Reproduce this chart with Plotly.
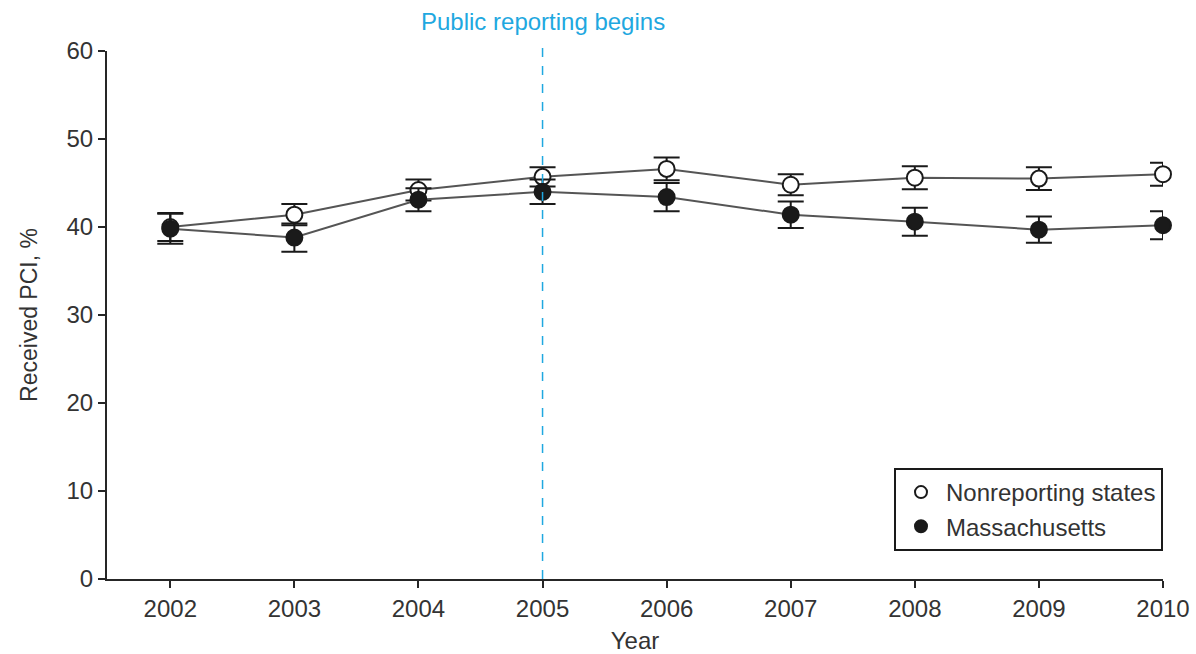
import plotly.graph_objects as go

years = [2002, 2003, 2004, 2005, 2006, 2007, 2008, 2009, 2010]

nonreporting = [40.0, 41.4, 44.2, 45.7, 46.6, 44.8, 45.6, 45.5, 46.0]
nonreporting_err = [1.6, 1.2, 1.2, 1.1, 1.3, 1.2, 1.3, 1.3, 1.3]

massachusetts = [39.8, 38.8, 43.1, 44.0, 43.4, 41.4, 40.6, 39.7, 40.2]
massachusetts_err = [1.7, 1.6, 1.3, 1.4, 1.6, 1.5, 1.6, 1.5, 1.6]

y_ticks = [0, 10, 20, 30, 40, 50, 60]
reporting_year = 2005

FONT = "Liberation Sans, Arial, sans-serif"
TEXT = "#333333"
AXIS = "#262626"
BLUE = "#1fa8e0"

fig = go.Figure()

for name, vals, errs, fill in [
    ("Nonreporting states", nonreporting, nonreporting_err, "white"),
    ("Massachusetts", massachusetts, massachusetts_err, "#1a1a1a"),
]:
    fig.add_trace(go.Scatter(
        x=years, y=vals, mode="lines+markers", name=name, showlegend=False,
        line=dict(color="#555555", width=2),
        marker=dict(size=16, color=fill, line=dict(color="#1a1a1a", width=2)),
        error_y=dict(type="data", array=errs, visible=True,
                     color="#1a1a1a", thickness=2, width=13),
        cliponaxis=False,
    ))
    # legend entry (marker only)
    fig.add_trace(go.Scatter(
        x=[None], y=[None], mode="markers", name=name,
        marker=dict(size=14, color=fill, line=dict(color="#1a1a1a", width=1.5)),
    ))

fig.add_shape(type="line", xref="x", yref="paper",
              x0=reporting_year, x1=reporting_year, y0=0, y1=1.021,
              line=dict(color=BLUE, width=1.5, dash="dash"))
fig.add_annotation(x=reporting_year, xref="x", y=1.055, yref="paper",
                   text="Public reporting begins", showarrow=False,
                   font=dict(family=FONT, size=24, color=BLUE),
                   xanchor="center", yanchor="middle")

fig.update_layout(
    width=1196, height=654,
    margin=dict(l=107, r=33, t=51, b=75, autoexpand=False),
    paper_bgcolor="white", plot_bgcolor="white",
    font=dict(family=FONT, size=24, color=TEXT),
    legend=dict(
        x=1, xanchor="right", y=0.053, yanchor="bottom",
        bordercolor="#1a1a1a", borderwidth=2, bgcolor="white",
        font=dict(family=FONT, size=24, color=TEXT),
        itemsizing="constant", tracegroupgap=0,
        itemwidth=40,
    ),
    xaxis=dict(
        range=[2001.49, 2010.0], tickvals=years, ticktext=[str(y) for y in years],
        automargin=False,
        showgrid=False, zeroline=False, showline=True, linecolor=AXIS,
        linewidth=2, ticks="outside", ticklen=7, tickwidth=2, tickcolor=AXIS,
        title=dict(text="Year", font=dict(size=24, color=TEXT), standoff=16),
        tickfont=dict(size=24, color=TEXT),
    ),
    yaxis=dict(
        range=[0, 60], tickvals=y_ticks, automargin=False,
        showgrid=False, zeroline=False, showline=True, linecolor=AXIS,
        linewidth=2, ticks="outside", ticklen=7, tickwidth=2, tickcolor=AXIS,
        title=dict(text="Received PCI, %", font=dict(size=23, color=TEXT), standoff=22),
        tickfont=dict(size=24, color=TEXT),
    ),
)

fig.write_html("out.html")
